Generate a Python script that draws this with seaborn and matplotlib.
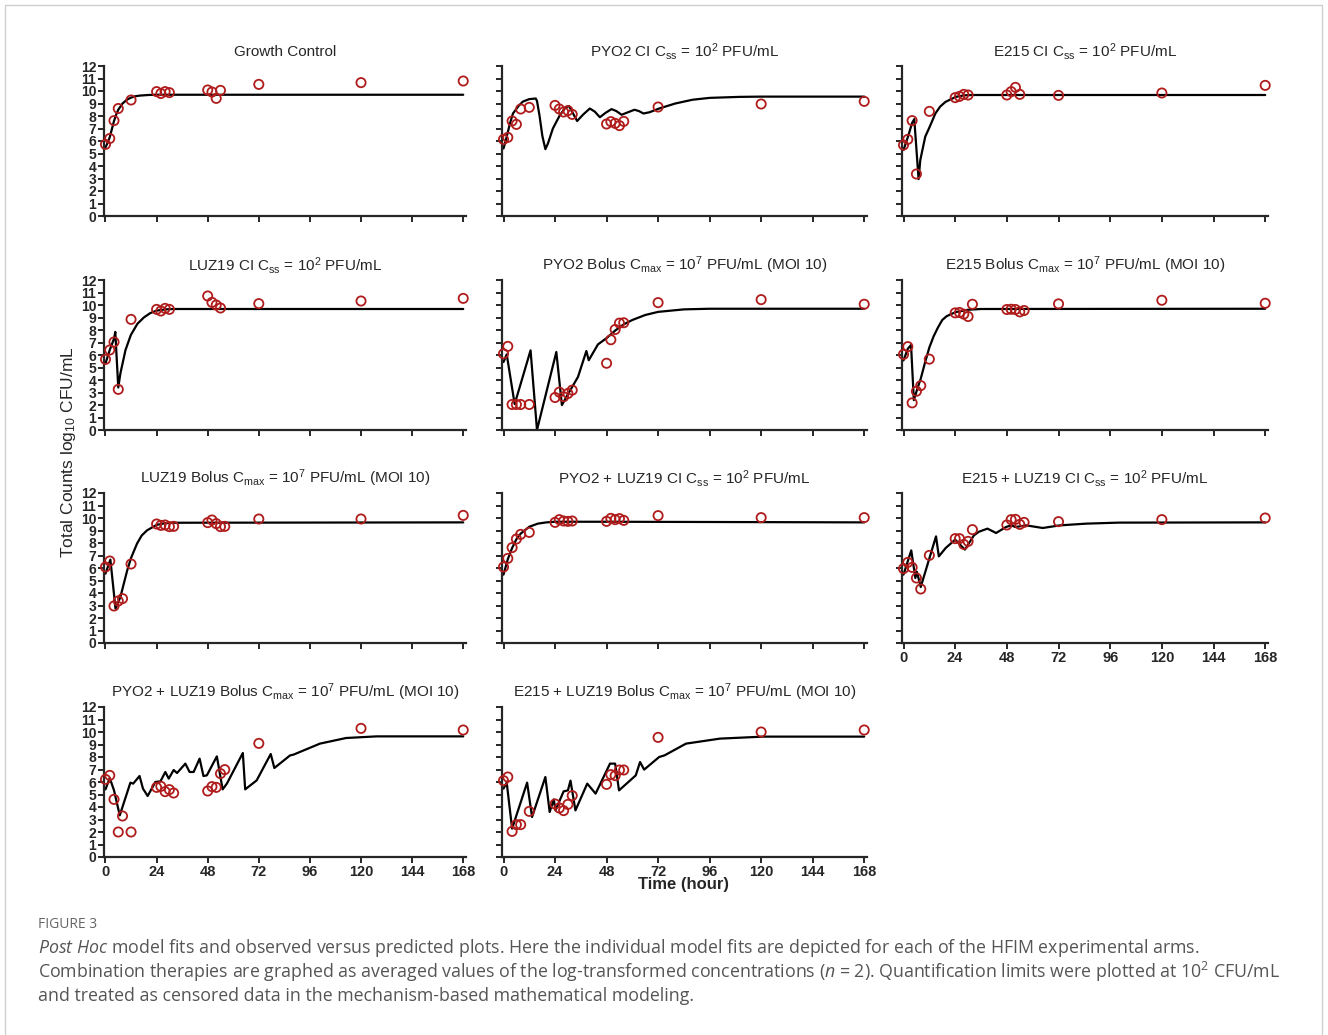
import numpy as np
import matplotlib
matplotlib.use("Agg")
import matplotlib.pyplot as plt
from matplotlib.patches import Rectangle
import seaborn as sns

sns.set_style("ticks")
plt.rcParams['font.family'] = ['Liberation Sans', 'DejaVu Sans']
plt.rcParams['mathtext.fontset'] = 'custom'
plt.rcParams['mathtext.default'] = 'regular'
plt.rcParams['mathtext.it'] = 'Open Sans:italic'

# sampling times (hours)
t_short = [0, 2, 4, 6, 12, 24, 26, 28, 30, 48, 50, 52, 54, 72, 120, 168]
t_full = [0, 2, 4, 6, 8, 12, 24, 26, 28, 30, 32, 48, 50, 52, 54, 56, 72, 120, 168]

# observed log10 CFU/mL
gc_obs = [5.73, 6.2, 7.63, 8.6, 9.28, 9.95, 9.8, 9.95, 9.87, 10.08, 9.92, 9.41, 10.05, 10.53, 10.67, 10.8]
pyo2_ci_obs = [6.13, 6.29, 7.6, 7.33, 8.56, 8.69, 8.85, 8.56, 8.32, 8.43, 8.13, 7.36, 7.55, 7.41, 7.23, 7.57, 8.72, 8.96, 9.17]
e215_ci_obs = [5.68, 6.13, 7.63, 3.36, 8.37, 9.47, 9.57, 9.73, 9.68, 9.68, 9.95, 10.29, 9.73, 9.65, 9.84, 10.45]
luz19_ci_obs = [5.65, 6.4, 7.04, 3.25, 8.85, 9.65, 9.52, 9.73, 9.65, 10.72, 10.21, 10.0, 9.76, 10.11, 10.32, 10.53]
pyo2_bol_obs = [6.1, 6.69, 2.04, 2.04, 2.04, 2.04, 2.6, 3.03, 2.66, 2.92, 3.19, 5.34, 7.22, 8.04, 8.55, 8.58, 10.19, 10.43, 10.06]
e215_bol_obs = [6.05, 6.67, 2.17, 3.1, 3.55, 5.67, 9.37, 9.4, 9.27, 9.08, 10.06, 9.64, 9.66, 9.64, 9.45, 9.56, 10.09, 10.38, 10.14]
luz19_bol_obs = [6.08, 6.56, 2.96, 3.36, 3.55, 6.32, 9.52, 9.41, 9.44, 9.31, 9.33, 9.63, 9.84, 9.55, 9.31, 9.33, 9.92, 9.92, 10.21]
pl_ci_obs = [6.08, 6.77, 7.63, 8.32, 8.69, 8.85, 9.65, 9.87, 9.76, 9.73, 9.76, 9.73, 9.97, 9.87, 9.95, 9.81, 10.19, 10.03, 10.03]
el_ci_obs = [5.95, 6.45, 6.05, 5.2, 4.32, 7.01, 8.35, 8.35, 7.89, 8.13, 9.07, 9.44, 9.87, 9.89, 9.49, 9.65, 9.71, 9.87, 10.0]
pl_bol_obs = [6.21, 6.53, 4.61, 2.0, 3.28, 2.0, 5.57, 5.65, 5.23, 5.39, 5.12, 5.28, 5.63, 5.57, 6.67, 6.99, 9.09, 10.29, 10.16]
el_bol_obs = [6.11, 6.4, 2.05, 2.59, 2.59, 3.65, 4.24, 3.92, 3.71, 4.21, 4.91, 5.81, 6.59, 6.51, 6.96, 6.96, 9.57, 10.0, 10.16]

# model fits
gc_fit_t = [0, 1, 2, 3, 4, 5, 6, 8, 10, 12, 14, 16, 20, 24, 30, 168]
gc_fit_y = [5.5, 5.85, 6.3, 6.95, 7.6, 8.1, 8.5, 9.0, 9.3, 9.47, 9.58, 9.63, 9.68, 9.7, 9.7, 9.7]
pyo2_ci_fit_t = [0, 1, 3, 4.4, 7, 9, 12, 15, 15.6, 16.8, 18.1, 19.5, 20.7, 23, 26.2, 29, 30.5, 32.4, 34.3, 37, 40.2, 42.5,
                 44.9, 47.5, 50.3, 52.5, 55, 58, 61, 63, 65.2, 68, 72.5, 80, 88, 96, 110, 120, 168]
pyo2_ci_fit_y = [5.4, 6.0, 7.4, 8.2, 8.8, 9.15, 9.35, 9.4, 9.2, 8.0, 6.4, 5.35, 5.8, 7.0, 8.05, 8.7, 8.8, 8.2, 7.6, 8.1, 8.6, 8.35,
                 7.9, 8.25, 8.55, 8.4, 8.1, 8.3, 8.5, 8.4, 8.2, 8.3, 8.6, 9.0, 9.3, 9.45, 9.53, 9.55, 9.55]
e215_ci_fit_t = [0, 2, 4, 5, 7, 7.8, 10.1, 12.2, 14.8, 17, 19.5, 24.3, 28, 32, 168]
e215_ci_fit_y = [5.28, 6.3, 7.45, 7.75, 2.95, 4.48, 6.35, 7.15, 8.2, 8.75, 9.13, 9.53, 9.65, 9.68, 9.68]
luz19_ci_fit_t = [0, 2, 4, 4.6, 6, 7, 9.4, 11.9, 15, 18, 21, 24, 28, 32, 168]
luz19_ci_fit_y = [5.33, 6.4, 7.3, 7.85, 3.4, 4.53, 6.4, 7.6, 8.5, 9.0, 9.35, 9.55, 9.65, 9.68, 9.68]
pyo2_bol_fit_t = [0, 1.5, 5.2, 12.6, 15.6, 24.6, 27.2, 29.3, 34.7, 38.6, 39.7, 44, 48, 52, 56, 60, 66, 72, 84, 96, 168]
pyo2_bol_fit_y = [5.44, 6.05, 2.07, 6.37, 0.0, 6.24, 1.99, 2.65, 4.25, 6.32, 5.58, 6.85, 7.35, 7.95, 8.45, 8.8, 9.2, 9.45, 9.65, 9.7, 9.7]
e215_bol_fit_t = [0, 2, 3.5, 4.8, 6.7, 8, 10, 12, 14, 16, 18, 20, 24, 30, 36, 168]
e215_bol_fit_y = [5.57, 6.5, 6.8, 2.39, 3.45, 4.1, 5.4, 6.6, 7.5, 8.2, 8.8, 9.1, 9.42, 9.62, 9.68, 9.7]
luz19_bol_fit_t = [0, 2.3, 4.7, 7, 10.2, 12, 14.8, 17, 19.5, 24, 28, 32, 168]
luz19_bol_fit_y = [5.55, 6.67, 2.75, 3.68, 5.81, 6.8, 7.95, 8.6, 9.01, 9.45, 9.58, 9.62, 9.65]
pl_ci_fit_t = [0, 2, 4, 6, 8, 12, 16, 20, 24, 48, 96, 168]
pl_ci_fit_y = [5.47, 6.7, 7.6, 8.3, 8.75, 9.3, 9.55, 9.65, 9.7, 9.7, 9.68, 9.65]
el_ci_fit_t = [0, 3.6, 5.5, 6.2, 8.0, 15.1, 16.4, 19.6, 24, 28.5, 32.7, 35, 39, 43, 47.6, 50, 52, 57, 64.7, 72.5, 85, 100, 168]
el_ci_fit_y = [5.47, 7.41, 5.2, 5.7, 4.48, 8.53, 6.93, 7.6, 8.27, 7.47, 8.61, 8.9, 9.15, 8.8, 9.28, 9.41, 9.28, 9.41, 9.2, 9.41, 9.55, 9.63, 9.65]
pl_bol_fit_t = [0, 2, 4, 6.7, 11.7, 13, 16, 17.6, 19.8, 23.4, 25.8, 28.1, 29.7, 32, 33.6, 37.5, 39.5, 41.4, 44.2, 46, 47.6,
                52.3, 55, 57, 64.5, 65.6, 71, 77.6, 79.3, 86.7, 88.3, 100.7, 113, 127.3, 168]
pl_bol_fit_y = [5.41, 6.32, 5.33, 3.33, 5.95, 5.87, 6.48, 5.47, 4.88, 6.0, 6.05, 6.8, 6.27, 6.96, 6.72, 7.47, 6.8, 6.8, 7.87, 6.48, 6.53,
                8.05, 5.41, 5.87, 8.32, 5.41, 6.13, 8.24, 7.12, 8.13, 8.19, 9.07, 9.52, 9.65, 9.65]
el_bol_fit_t = [0, 1.5, 4, 11, 13.3, 19.5, 21.5, 23.4, 24.2, 28, 30, 31.2, 33.5, 39, 42.9, 49.6, 52, 53.8, 61.6, 63.6, 65.5,
                72.5, 75, 85, 100.8, 121, 168]
el_bol_fit_y = [5.47, 5.95, 2.27, 5.95, 3.2, 6.4, 3.6, 4.61, 3.73, 5.25, 5.33, 6.11, 3.73, 5.87, 5.07, 7.47, 7.47, 5.33, 6.53, 7.6, 6.99,
                8.0, 8.13, 9.07, 9.47, 9.63, 9.63]

titles = [
    "Growth Control",
    "PYO2 CI C$_{ss}$ = 10$^{2}$ PFU/mL",
    "E215 CI C$_{ss}$ = 10$^{2}$ PFU/mL",
    "LUZ19 CI C$_{ss}$ = 10$^{2}$ PFU/mL",
    "PYO2 Bolus C$_{max}$ = 10$^{7}$ PFU/mL (MOI 10)",
    "E215 Bolus C$_{max}$ = 10$^{7}$ PFU/mL (MOI 10)",
    "LUZ19 Bolus C$_{max}$ = 10$^{7}$ PFU/mL (MOI 10)",
    "PYO2 + LUZ19 CI C$_{ss}$ = 10$^{2}$ PFU/mL",
    "E215 + LUZ19 CI C$_{ss}$ = 10$^{2}$ PFU/mL",
    "PYO2 + LUZ19 Bolus C$_{max}$ = 10$^{7}$ PFU/mL (MOI 10)",
    "E215 + LUZ19 Bolus C$_{max}$ = 10$^{7}$ PFU/mL (MOI 10)",
]

panels = [
    (t_short, gc_obs, gc_fit_t, gc_fit_y),
    (t_full, pyo2_ci_obs, pyo2_ci_fit_t, pyo2_ci_fit_y),
    (t_short, e215_ci_obs, e215_ci_fit_t, e215_ci_fit_y),
    (t_short, luz19_ci_obs, luz19_ci_fit_t, luz19_ci_fit_y),
    (t_full, pyo2_bol_obs, pyo2_bol_fit_t, pyo2_bol_fit_y),
    (t_full, e215_bol_obs, e215_bol_fit_t, e215_bol_fit_y),
    (t_full, luz19_bol_obs, luz19_bol_fit_t, luz19_bol_fit_y),
    (t_full, pl_ci_obs, pl_ci_fit_t, pl_ci_fit_y),
    (t_full, el_ci_obs, el_ci_fit_t, el_ci_fit_y),
    (t_full, pl_bol_obs, pl_bol_fit_t, pl_bol_fit_y),
    (t_full, el_bol_obs, el_bol_fit_t, el_bol_fit_y),
]

W, H = 1328, 1035
fig = plt.figure(figsize=(W / 100, H / 100), dpi=100)

# gray page frame
fig.patches.append(Rectangle((5 / W, -0.01), (1322 - 5) / W, 1 - 5 / H + 0.01,
                             transform=fig.transFigure, fill=False, ec='#cfcfcf', lw=1))

cols = [(104, 466), (502, 867), (902, 1268)]
rows = [(66, 216), (280, 430), (493, 643), (707, 857)]
red = '#b01c1c'

for i, (obs_t, obs_y, fit_t, fit_y) in enumerate(panels):
    r, c = divmod(i, 3)
    x0, x1 = cols[c]
    y0, y1 = rows[r]
    ax = fig.add_axes([x0 / W, 1 - y1 / H, (x1 - x0) / W, (y1 - y0) / H])
    sns.lineplot(x=fit_t, y=fit_y, ax=ax, color='black', lw=1.6, estimator=None, sort=False)
    sns.scatterplot(x=obs_t, y=obs_y, ax=ax, marker='o', s=44, facecolor='none',
                    edgecolor=red, linewidth=1.3, zorder=3, clip_on=False)
    ax.set_xlim(-0.7, 169.3)
    ax.set_ylim(0, 12)
    ax.set_xticks(range(0, 169, 24))
    ax.set_yticks(range(0, 13))
    sns.despine(ax=ax)
    for s in ['left', 'bottom']:
        ax.spines[s].set_linewidth(1.6)
    ax.tick_params(width=1.4, length=4, pad=1.5, labelsize=10)
    ax.tick_params(axis='x', labelsize=10.5)
    for lab in ax.get_xticklabels() + ax.get_yticklabels():
        lab.set_fontweight('bold')
    if c != 0:
        ax.set_yticklabels([])
    if not (r == 3 or (r == 2 and c == 2)):
        ax.set_xticklabels([])
    ax.set_xlabel('')
    ax.set_ylabel('')
    ax.set_title(titles[i], fontsize=11, pad=7)

fig.text(68 / W, 1 - 452 / H, "Total Counts log$_{10}$ CFU/mL", rotation=90,
         ha='center', va='center', fontsize=12.5)
fig.text(684 / W, 1 - 885 / H, "Time (hour)", ha='center', va='center',
         fontsize=12, fontweight='bold')

cap = dict(family='Open Sans', color='#555555', fontsize=12.8, va='center', ha='left')
fig.text(38 / W, 1 - 925 / H, "FIGURE 3", family='Open Sans', color='#666666',
         fontsize=10, va='center', ha='left')
fig.text(38 / W, 1 - 948 / H, r"$\mathit{Post\ Hoc}$ model fits and observed versus predicted plots. "
         "Here the individual model fits are depicted for each of the HFIM experimental arms.", **cap)
fig.text(38 / W, 1 - 972 / H, r"Combination therapies are graphed as averaged values of the log-transformed "
         r"concentrations ($\mathit{n}$ = 2). Quantification limits were plotted at 10$^{2}$ CFU/mL", **cap)
fig.text(38 / W, 1 - 996 / H, "and treated as censored data in the mechanism-based mathematical modeling.", **cap)

fig.savefig("out.png", dpi=100, facecolor='white')
